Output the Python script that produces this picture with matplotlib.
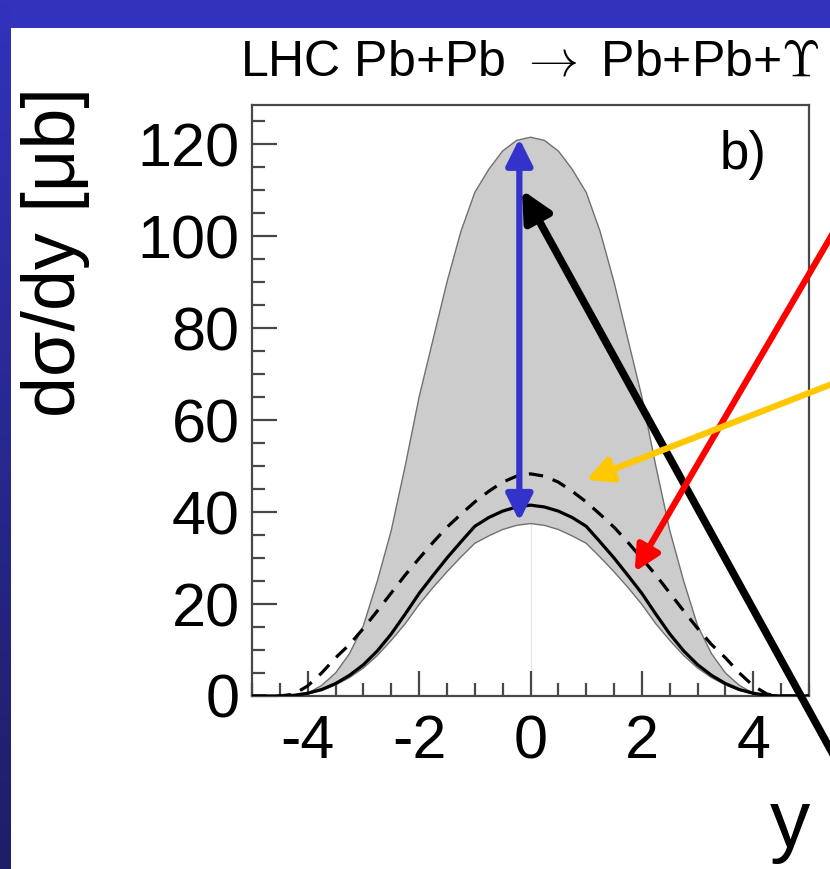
import numpy as np
import matplotlib
matplotlib.use("Agg")
import matplotlib.pyplot as plt
from matplotlib.ticker import MultipleLocator

plt.rcParams['font.family'] = ['Liberation Sans', 'DejaVu Sans']
plt.rcParams['mathtext.fontset'] = 'cm'

# rapidity grid
y_vals = [-5.0, -4.75, -4.5, -4.25, -4.0, -3.75, -3.5, -3.25, -3.0, -2.75, -2.5, -2.25, -2.0,
          -1.75, -1.5, -1.25, -1.0, -0.75, -0.5, -0.25, 0.0, 0.25, 0.5, 0.75, 1.0, 1.25,
          1.5, 1.75, 2.0, 2.25, 2.5, 2.75, 3.0, 3.25, 3.5, 3.75, 4.0, 4.25, 4.5, 4.75, 5.0]

band_upper = [0, 0, 0, 0.0, 0.6, 2.3, 5.0, 9.2, 15.3, 25.0, 36.0, 50.0, 65.0,
              77.5, 90.0, 101.0, 109.5, 114.5, 118.5, 120.8, 121.5, 120.8, 118.5, 114.5, 109.5, 101.0,
              90.0, 77.5, 65.0, 50.0, 36.0, 25.0, 15.3, 9.2, 5.0, 2.3, 0.6, 0.0, 0, 0, 0]

band_lower = [0, 0, 0, 0.1, 0.5, 1.2, 2.4, 4.0, 6.1, 8.8, 12.1, 15.7, 19.9,
              23.6, 27.0, 30.2, 33.2, 34.8, 36.2, 37.1, 37.5, 37.1, 36.2, 34.8, 33.2, 30.2,
              27.0, 23.6, 19.9, 15.7, 12.1, 8.8, 6.1, 4.0, 2.4, 1.2, 0.5, 0.1, 0, 0, 0]

solid = [0, 0, 0, 0.15, 0.6, 1.4, 2.7, 4.5, 6.8, 9.8, 13.5, 17.8, 22.3,
         26.2, 30.0, 33.5, 36.9, 38.8, 40.2, 41.1, 41.5, 41.1, 40.2, 38.8, 36.9, 33.5,
         30.0, 26.2, 22.3, 17.8, 13.5, 9.8, 6.8, 4.5, 2.7, 1.4, 0.6, 0.15, 0, 0, 0]

dashed = [0, 0, 0, 0.4, 2.2, 5.0, 8.3, 11.2, 14.7, 18.5, 22.4, 26.3, 29.9,
          33.4, 36.7, 39.5, 42.2, 44.5, 46.5, 47.8, 48.3, 47.8, 46.5, 44.5, 42.2, 39.5,
          36.7, 33.4, 29.9, 26.3, 22.4, 18.5, 14.7, 11.2, 8.3, 5.0, 2.2, 0.4, 0, 0, 0]

W, H = 830, 869
fig = plt.figure(figsize=(W / 100, H / 100), dpi=100)
fig.patch.set_facecolor('white')

# slide-like blue frame: top band and left gradient strip
top_band = 28
left_strip = 10
bg = fig.add_axes([0, 1 - top_band / H, 1, top_band / H])
bg.add_patch(plt.Rectangle((0, 0), 1, 1, color='#3232BC', transform=bg.transAxes))
bg.set_axis_off()
ls = fig.add_axes([0, 0, left_strip / W, 1])
grad = np.linspace(0, 1, 256).reshape(-1, 1)
c_top = np.array([0x32, 0x32, 0xBC]) / 255
c_bot = np.array([0x1E, 0x1E, 0x66]) / 255
img = c_bot[None, None, :] * (1 - grad[:, :, None]) + c_top[None, None, :] * grad[:, :, None]
ls.imshow(img, aspect='auto', origin='lower', extent=[0, 1, 0, 1])
ls.set_axis_off()

ax = fig.add_axes([252 / W, 1 - 696 / H, (809 - 252) / W, (696 - 105) / H])
ax.set_xlim(-5, 5)
ax.set_ylim(0, 128.5)

ax.fill_between(y_vals, band_lower, band_upper, facecolor='#cccccc', edgecolor='none', zorder=1)
ax.plot(y_vals, band_upper, color='#707070', lw=1.0, zorder=2)
ax.plot(y_vals, band_lower, color='#707070', lw=1.0, zorder=2)
ax.plot([0, 0], [0, band_lower[20]], color='#e6e6e6', lw=1.0, zorder=1.5)
ax.plot(y_vals, solid, color='black', lw=2.3, zorder=3)
ax.plot(y_vals, dashed, color='black', lw=2.3, ls=(0, (4.5, 3.2)), zorder=3)

for side in ['top', 'right', 'left', 'bottom']:
    ax.spines[side].set_color('#484848')
    ax.spines[side].set_linewidth(1.6)

ax.xaxis.set_major_locator(MultipleLocator(2))
ax.xaxis.set_minor_locator(MultipleLocator(0.5))
ax.yaxis.set_major_locator(MultipleLocator(20))
ax.yaxis.set_minor_locator(MultipleLocator(5))
ax.tick_params(which='both', direction='in', top=False, right=False, color='#484848', width=1.6)
ax.tick_params(which='major', length=18, labelsize=44)
ax.tick_params(which='minor', length=9.5)
ax.tick_params(axis='x', which='major', pad=13)
ax.tick_params(axis='y', which='major', pad=9)
ax.set_xticks([-4, -2, 0, 2, 4])
ax.set_xticklabels(['-4', '-2', '0', '2', '4'])

fig.text(530 / W, 1 - 62 / H, 'LHC Pb+Pb $\\rightarrow$ Pb+Pb+$\\Upsilon$', ha='center', va='center', fontsize=36)
fig.text(55 / W, 1 - 252 / H, 'd\u03c3/dy [\u03bcb]', rotation=90, ha='center', va='center', fontsize=53)
fig.text(790 / W, 1 - 826 / H, 'y', ha='center', va='center', fontsize=58)
ax.text(0.84, 0.915, 'b)', transform=ax.transAxes, ha='left', va='center', fontsize=38)

# annotation arrows
ax.annotate('', xy=(-0.2, 121.2), xytext=(-0.2, 38.0),
            arrowprops=dict(arrowstyle='<|-|>', color='#3333CC', lw=4.5,
                            mutation_scale=40, shrinkA=0, shrinkB=0), zorder=5)
ax.annotate('', xy=(-0.15, 110.0), xytext=(850, 869 - 785), textcoords='figure pixels',
            arrowprops=dict(arrowstyle='-|>', color='black', lw=5.5,
                            mutation_scale=45, shrinkA=0, shrinkB=0),
            annotation_clip=False, zorder=6)
ax.annotate('', xy=(1.87, 27.0), xytext=(850, 869 - 204), textcoords='figure pixels',
            arrowprops=dict(arrowstyle='-|>', color='#FF0000', lw=4.5,
                            mutation_scale=38, shrinkA=0, shrinkB=0),
            annotation_clip=False, zorder=6)
ax.annotate('', xy=(1.0, 47.0), xytext=(850, 869 - 377), textcoords='figure pixels',
            arrowprops=dict(arrowstyle='-|>', color='#FFC800', lw=4.5,
                            mutation_scale=38, shrinkA=0, shrinkB=0),
            annotation_clip=False, zorder=6)

fig.savefig('out.png', dpi=100)
